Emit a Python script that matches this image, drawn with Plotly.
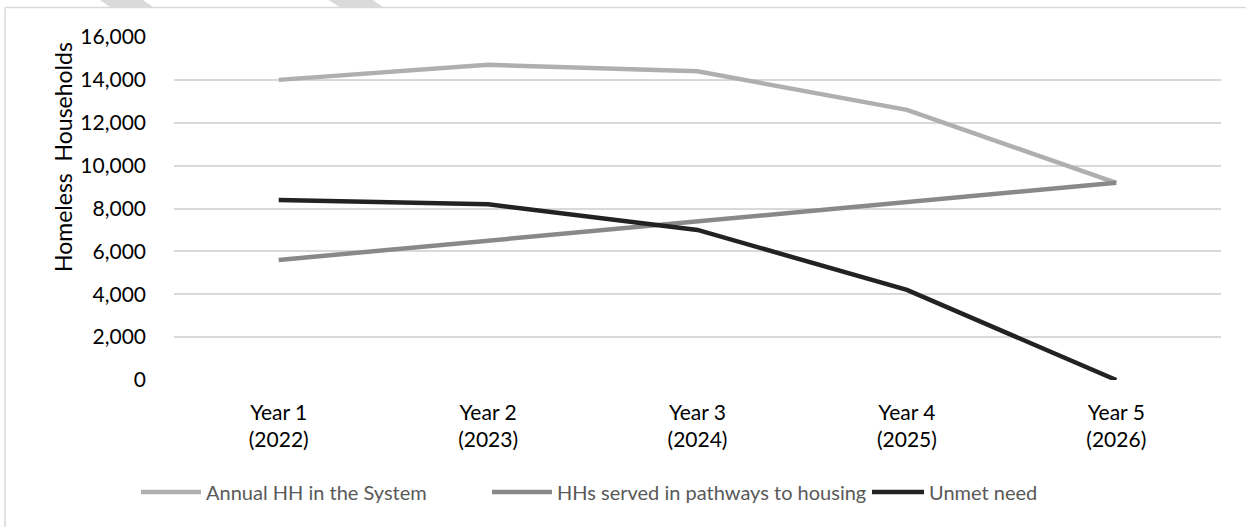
import plotly.graph_objects as go

categories = ["Year 1<br>(2022)", "Year 2<br>(2023)", "Year 3<br>(2024)", "Year 4<br>(2025)", "Year 5<br>(2026)"]
annual_hh = [14000, 14700, 14400, 12600, 9200]
served_hh = [5600, 6500, 7400, 8300, 9200]
unmet_need = [8400, 8200, 7000, 4200, 0]
y_ticks = [0, 2000, 4000, 6000, 8000, 10000, 12000, 14000, 16000]

FONT = "Lato"
W, H = 1246, 527
L, R, T, B = 174, 25, 37, 147
PW, PH = W - L - R, H - T - B

def px(x):
    return (x - L) / PW

def py(y):
    return (H - B - y) / PH

fig = go.Figure()
series = [
    ("Annual HH in the System", annual_hh, "#afafaf", "legend", 141, 60),
    ("HHs served in pathways to housing", served_hh, "#898989", "legend2", 492, 60),
    ("Unmet need", unmet_need, "#222222", "legend3", 872, 52),
]
legend_layout = {}
for name, vals, col, lg, lx, iw in series:
    fig.add_trace(go.Scatter(x=categories, y=vals, name=name, mode="lines",
                             line=dict(color=col, width=4.5), hoverinfo="skip",
                             legend=lg))
    legend_layout[lg] = dict(orientation="h", x=px(lx - 5), xanchor="left",
                             y=py(492), yanchor="middle",
                             font=dict(family=FONT, size=20, color="#595959"),
                             itemwidth=iw, bgcolor="rgba(0,0,0,0)", borderwidth=0)

shapes = [
    dict(type="line", xref="paper", yref="paper", x0=px(5), y0=py(7.5), x1=px(W + 5), y1=py(7.5),
         line=dict(color="#d9d9d9", width=1.5), layer="below"),
    dict(type="line", xref="paper", yref="paper", x0=px(5), y0=py(7.5), x1=px(5), y1=py(H + 5),
         line=dict(color="#d9d9d9", width=1.5), layer="below"),
]
stripes = [[(97, -2), (140, -2), (153, 7), (110, 7)], [(325, -2), (370, -2), (383, 7), (340, 7)]]
for pts in stripes:
    path = "M " + " L ".join(f"{px(x):.5f},{py(y):.5f}" for x, y in pts) + " Z"
    shapes.append(dict(type="path", xref="paper", yref="paper", path=path,
                       fillcolor="#dadada", line=dict(width=0), layer="below"))

fig.update_layout(
    width=W, height=H,
    margin=dict(l=L, r=R, t=T, b=B, pad=0),
    paper_bgcolor="white", plot_bgcolor="white",
    font=dict(family=FONT, size=21, color="#000000"),
    showlegend=True,
    xaxis=dict(showgrid=False, zeroline=False, showline=False, ticks="",
               range=[-0.5, 4.5],
               tickfont=dict(family=FONT, size=21, color="#000000"), ticklabelstandoff=18),
    yaxis=dict(range=[0, 16000], tickvals=y_ticks, tickformat=",", showgrid=True,
               gridcolor="#d9d9d9", gridwidth=1.5, zeroline=False, showline=False, ticks="",
               tickfont=dict(family=FONT, size=21, color="#000000"), ticklabelstandoff=27),
    shapes=shapes,
    annotations=[dict(text="Homeless\u00a0 Households", xref="paper", yref="paper",
                      x=px(63), y=py(157), xanchor="center", yanchor="middle",
                      textangle=-90, showarrow=False,
                      font=dict(family=FONT, size=23, color="#000000"))],
    **legend_layout,
)

fig.write_html("out.html")
